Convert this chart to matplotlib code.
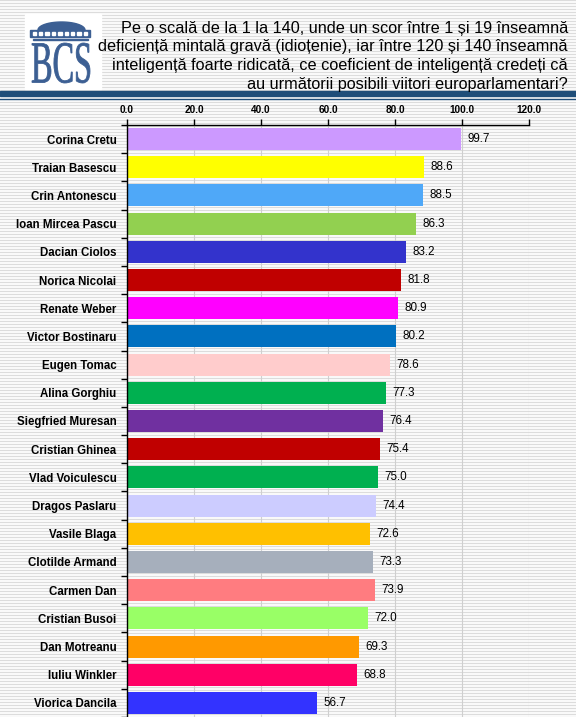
import numpy as np
import matplotlib
matplotlib.use("Agg")
import matplotlib.pyplot as plt
from matplotlib.patches import Rectangle, PathPatch, Polygon
from matplotlib.textpath import TextPath
from matplotlib.font_manager import FontProperties
from matplotlib.transforms import Affine2D

names = ["Corina Cretu", "Traian Basescu", "Crin Antonescu", "Ioan Mircea Pascu",
         "Dacian Ciolos", "Norica Nicolai", "Renate Weber", "Victor Bostinaru",
         "Eugen Tomac", "Alina Gorghiu", "Siegfried Muresan", "Cristian Ghinea",
         "Vlad Voiculescu", "Dragos Paslaru", "Vasile Blaga", "Clotilde Armand",
         "Carmen Dan", "Cristian Busoi", "Dan Motreanu", "Iuliu Winkler",
         "Viorica Dancila"]
values = [99.7, 88.6, 88.5, 86.3, 83.2, 81.8, 80.9, 80.2, 78.6, 77.3, 76.4,
          75.4, 75.0, 74.4, 72.6, 73.3, 73.9, 72.0, 69.3, 68.8, 56.7]
colors = ["#CC99FF", "#FFFF00", "#4FA8F8", "#92D050", "#3333CC", "#C00000",
          "#FF00FF", "#0070C0", "#FFCCCC", "#00B050", "#7030A0", "#C00000",
          "#00B050", "#CCCCFF", "#FFC000", "#A6AFBC", "#FF7C80", "#99FF66",
          "#FF9900", "#FF0066", "#3333FF"]
xticks = [0, 20, 40, 60, 80, 100, 120]
title_lines = ["Pe o scală de la 1 la 140, unde un scor între 1 și 19 înseamnă",
               "deficiență mintală gravă (idioțenie), iar între 120 și 140 înseamnă",
               "inteligență foarte ridicată, ce coeficient de inteligență credeți că",
               "au următorii posibili viitori europarlamentari?"]

W, H = 576, 717
fig = plt.figure(figsize=(W / 100, H / 100), dpi=100)

# background / header layer in pixel coordinates
bg = fig.add_axes([0, 0, 1, 1])
bg.set_xlim(0, W)
bg.set_ylim(H, 0)
bg.axis("off")
rows = np.arange(H)
stripe = np.where(rows % 3 == 0, 0.86, 0.975)
img = np.repeat(stripe[:, None], W, axis=1)
bg.imshow(img, cmap="gray", vmin=0, vmax=1, extent=(0, W, H, 0),
          aspect="auto", interpolation="nearest", zorder=0)

navy = "#1F4E79"
logo_blue = "#3C5F93"
bg.add_patch(Rectangle((0, 91), W, 5, color=navy, zorder=2))
bg.plot([0, W], [98.5, 98.5], color=navy, lw=1, zorder=2)

# logo
bg.add_patch(Rectangle((25, 14), 76, 75, color="white", zorder=1))
t = np.linspace(0, np.pi, 40)
dome = np.column_stack([61.5 + 23.5 * np.cos(t), 30 - 8 * np.sin(t)])
bg.add_patch(Polygon(dome, closed=True, color=logo_blue, zorder=3))
bg.add_patch(Rectangle((30, 30), 60, 7, color=logo_blue, zorder=3))
for k in range(9):
    bg.add_patch(Rectangle((32.5 + k * 6.4, 32), 3.4, 2.6, color="white", zorder=4))
bg.add_patch(Rectangle((33, 38.5), 55, 1.5, color=logo_blue, zorder=3))
tp = TextPath((0, 0), "BCS", size=10,
              prop=FontProperties(family="Liberation Serif"))
ext = tp.get_extents()
sx = 58 / ext.width
sy = 40 / ext.height
tr = Affine2D().translate(-ext.x0, -ext.y0).scale(sx, -sy).translate(32, 83)
bg.add_patch(PathPatch(tr.transform_path(tp), color=logo_blue, lw=0.6, zorder=3))

ys = [28, 47, 65.5, 84]
for line, y in zip(title_lines, ys):
    bg.text(568, y, line, ha="right", va="center", fontsize=11.7,
            family="Liberation Sans", color="black", zorder=3)

# chart
top = 125
ax = fig.add_axes([127 / W, 0, 402 / W, (H - top) / H])
ax.set_facecolor("none")
pos = np.arange(len(names))
ax.barh(pos, values, height=0.78, color=colors, zorder=2)
for p, v in zip(pos, values):
    ax.text(v + 1.9, p, f"{v:.1f}", va="center", ha="left", fontsize=8.4,
            family="Liberation Sans", color="black", zorder=3)
ax.set_xlim(0, 120)
ax.set_ylim(len(names) - 0.5, -0.5)
ax.xaxis.tick_top()
ax.set_xticks(xticks)
ax.set_xticklabels([f"{x:.1f}" for x in xticks], fontsize=7.2, fontweight="bold",
                   family="Liberation Sans")
ax.tick_params(axis="x", direction="out", length=4, width=1, pad=3)
ax.set_yticks(pos)
ax.set_yticklabels(names, fontsize=8.3, fontweight="bold", family="Liberation Sans")
ax.set_yticks(np.arange(len(names) + 1) - 0.5, minor=True)
ax.tick_params(axis="y", which="major", length=0, pad=7.5)
ax.tick_params(axis="y", which="minor", direction="out", length=4, width=1)
ax.grid(axis="x", color="#CFCFCF", lw=0.8, zorder=0)
ax.set_axisbelow(True)
for s in ["right", "bottom"]:
    ax.spines[s].set_visible(False)
for s in ["left", "top"]:
    ax.spines[s].set_linewidth(1)
    ax.spines[s].set_color("black")
    ax.spines[s].set_zorder(4)

fig.savefig("out.png", dpi=100)
